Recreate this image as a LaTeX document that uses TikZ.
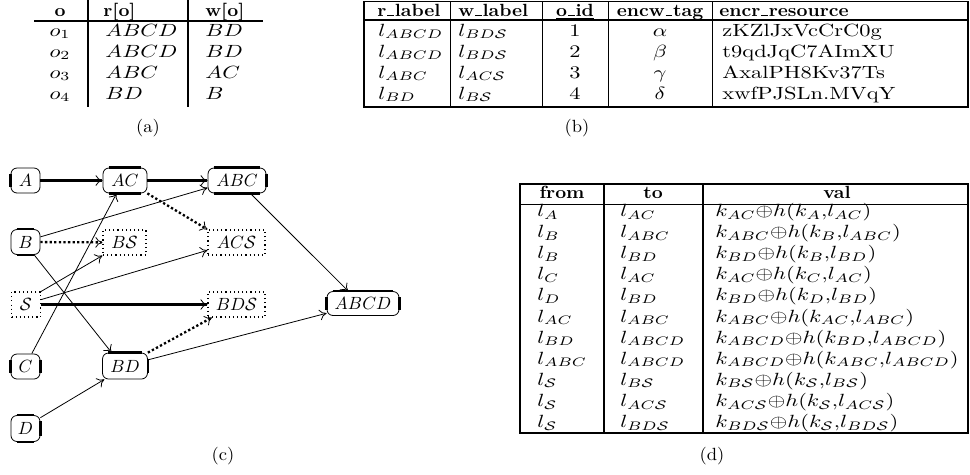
\documentclass[tikz,border=0pt]{standalone}
\usetikzlibrary{arrows.meta}
\newcommand\thickT[1]{\draw[side] ([xshift=3.4pt]#1.north west) -- ([xshift=-3.4pt]#1.north east);}
\newcommand\thickB[1]{\draw[side] ([xshift=3.4pt]#1.south west) -- ([xshift=-3.4pt]#1.south east);}
\newcommand\thickL[1]{\draw[side] ([yshift=-3.4pt]#1.north west) -- ([yshift=3.4pt]#1.south west);}
\newcommand\thickR[1]{\draw[side] ([yshift=-3.4pt]#1.north east) -- ([yshift=3.4pt]#1.south east);}
% short low rule used as underscore in the column titles
\newcommand\us{\kern.05em\rule[-0.2pt]{.34em}{.6pt}\kern.05em}
\begin{document}
\begin{tikzpicture}[x=0.566pt,y=-0.566pt,
  txt/.style={inner sep=0pt, anchor=base west, xscale=1.27},
  ctxt/.style={inner sep=0pt, anchor=base, xscale=1.27},
  hd/.style={inner sep=0pt, anchor=base west, xscale=1.08, font=\bfseries},
  chd/.style={inner sep=0pt, anchor=base, xscale=1.08, font=\bfseries},
  captxt/.style={inner sep=0pt, anchor=base, xscale=1.05},
  rule/.style={line width=1.1pt},
  thinrule/.style={line width=0.55pt},
  box/.style n args={2}{draw, line width=0.45pt, rounded corners=3.4pt, inner sep=0pt,
    minimum width=#1*0.566pt, minimum height=#2*0.566pt},
  dbox/.style n args={2}{draw, line width=0.6pt, dash pattern=on 0.65pt off 1.7pt, inner sep=0pt,
    minimum width=#1*0.566pt, minimum height=#2*0.566pt},
  side/.style={line width=1.5pt},
  tip/.style={-{Computer Modern Rightarrow[length=4pt,width=6pt,line width=0.45pt]}},
  plain/.style={tip, line width=0.45pt},
  heavy/.style={tip, line width=1.5pt},
  dots/.style={tip, line width=1.3pt, dash pattern=on 1.3pt off 1.3pt},
]
\useasboundingbox (0,0) rectangle (970,474);

% ---------- (a) objects with read and write sets ----------
\draw[rule] (34,21) -- (263,21);
\draw[rule] (88,0) -- (88,107);
\draw[rule] (188,0) -- (188,107);
\node[chd] (a-h1) at (60,16) {o};
\node[hd] (a-h2) at (103,16) {r[o]};
\node[hd] (a-h3) at (205,16) {w[o]};
\foreach \va/\vb/\vc [count=\i] in {o_1/ABCD/BD, o_2/ABCD/BD, o_3/ABC/AC, o_4/BD/B} {
  \node[ctxt] (a-\i-1) at (60,{15+21*\i}) {$\va$};
  \node[txt] (a-\i-2) at (105,{15+21*\i}) {$\vb$};
  \node[txt] (a-\i-3) at (205,{15+21*\i}) {$\vc$};
}
\node[captxt] (cap-a) at (148,132) {(a)};

% ---------- (b) encrypted resources ----------
\draw[rule] (364,1.5) rectangle (968,107);
\draw[rule] (364,20) -- (968,20);
\foreach \x in {450,542,608,712} \draw[thinrule] (\x,1.5) -- (\x,107);
\node[hd] (b-h1) at (377,16) {r\us label};
\node[hd] (b-h2) at (458,16) {w\us label};
\node[chd] (b-h3) at (575,16) {\underline{o\us id}};
\node[chd] (b-h4) at (660,16) {encw\us tag};
\node[hd] (b-h5) at (719,16) {encr\us resource};
\foreach \va/\vb/\vc/\vd/\ve [count=\i] in {
    {l_{ABCD}}/{l_{BD\mathcal{S}}}/1/\alpha/zKZlJxVcCrC0g,
    {l_{ABCD}}/{l_{BD\mathcal{S}}}/2/\beta/t9qdJqC7AImXU,
    {l_{ABC}}/{l_{AC\mathcal{S}}}/3/\gamma/AxalPH8Kv37Ts,
    {l_{BD}}/{l_{B\mathcal{S}}}/4/\delta/xwfPJSLn.MVqY} {
  \node[txt] (b-\i-1) at (378,{15+21*\i}) {$\va$};
  \node[txt] (b-\i-2) at (458,{15+21*\i}) {$\vb$};
  \node[ctxt] (b-\i-3) at (575,{15+21*\i}) {\vc};
  \node[ctxt] (b-\i-4) at (660,{15+21*\i}) {$\vd$};
  \node[txt] (b-\i-5) at (722,{15+21*\i}) {\ve};
}
\node[captxt] (cap-b) at (577,132) {(b)};

% ---------- (c) key derivation graph ----------
\node[box={29}{25}] (A)    at (25.5,180.5) {$A$};
\node[box={44}{25}] (AC)   at (125,180.5)  {$AC$};
\node[box={58}{25}] (ABC)  at (237,180.5)  {$ABC$};
\node[box={29}{25}] (B)    at (25.5,242)   {$B$};
\node[dbox={43}{25}] (BS)  at (124.5,242.5) {$B\mathcal{S}$};
\node[dbox={57}{25}] (ACS) at (236.5,242.5) {$AC\mathcal{S}$};
\node[dbox={29}{25}] (S)   at (26,304.5)   {$\mathcal{S}$};
\node[dbox={57}{25}] (BDS) at (236.5,304.5) {$BD\mathcal{S}$};
\node[box={72}{24}] (ABCD) at (363,303.5)  {$ABCD$};
\node[box={29}{25}] (C)    at (25.5,366.5) {$C$};
\node[box={45}{26}] (BD)   at (125,366)    {$BD$};
\node[box={29}{26}] (D)    at (25.5,428.5) {$D$};

\thickL{A}
\thickT{AC}\thickB{AC}
\thickT{ABC}\thickB{ABC}\thickR{ABC}
\thickT{B}\thickB{B}
\thickT{ABCD}\thickL{ABCD}\thickR{ABCD}
\thickL{C}\thickR{C}
\thickT{BD}\thickR{BD}
\thickT{D}\thickB{D}\thickR{D}

\draw[heavy] (A) -- (AC);
\draw[heavy] (AC) -- (ABC);
\draw[dots] (AC.south east) -- (ACS.north west);
\draw[plain] (B.19) -- (ABC.194);
\draw[dots] (B) -- (BS);
\draw[plain] (B.-56) -- (BD.135);
\draw[plain] (S.north east) -- (BS.south west);
\draw[plain] (S.18) -- (ACS.195);
\draw[heavy] (S) -- (BDS);
\draw[plain] (C.64) -- (AC.237);
\draw[plain] (D.36) -- (BD.213);
\draw[dots] (BD.north east) -- (BDS.208);
\draw[plain] (BD.15) -- (ABCD.195);
\draw[plain] (ABC.-44) -- (ABCD.140);
\node[captxt] (cap-c) at (223,460) {(c)};

% ---------- (d) public edge values ----------
\draw[rule] (520,184) rectangle (968,433);
\draw[thinrule] (520,204) -- (968,204);
\draw[rule] (604,184) -- (604,433);
\draw[rule] (703,184) -- (703,433);
\node[chd] (d-h1) at (562,198) {from};
\node[chd] (d-h2) at (653,198) {to};
\node[chd] (d-h3) at (837,198) {val};
\foreach \va/\vb/\vc [count=\i] in {
    {l_A}/{l_{AC}}/{k_{AC}{\oplus}h(k_A{,}l_{AC})},
    {l_B}/{l_{ABC}}/{k_{ABC}{\oplus}h(k_B{,}l_{ABC})},
    {l_B}/{l_{BD}}/{k_{BD}{\oplus}h(k_B{,}l_{BD})},
    {l_C}/{l_{AC}}/{k_{AC}{\oplus}h(k_C{,}l_{AC})},
    {l_D}/{l_{BD}}/{k_{BD}{\oplus}h(k_D{,}l_{BD})},
    {l_{AC}}/{l_{ABC}}/{k_{ABC}{\oplus}h(k_{AC}{,}l_{ABC})},
    {l_{BD}}/{l_{ABCD}}/{k_{ABCD}{\oplus}h(k_{BD}{,}l_{ABCD})},
    {l_{ABC}}/{l_{ABCD}}/{k_{ABCD}{\oplus}h(k_{ABC}{,}l_{ABCD})},
    {l_{\mathcal{S}}}/{l_{B\mathcal{S}}}/{k_{B\mathcal{S}}{\oplus}h(k_{\mathcal{S}}{,}l_{B\mathcal{S}})},
    {l_{\mathcal{S}}}/{l_{AC\mathcal{S}}}/{k_{AC\mathcal{S}}{\oplus}h(k_{\mathcal{S}}{,}l_{AC\mathcal{S}})},
    {l_{\mathcal{S}}}/{l_{BD\mathcal{S}}}/{k_{BD\mathcal{S}}{\oplus}h(k_{\mathcal{S}}{,}l_{BD\mathcal{S}})}} {
  \node[txt] (d-\i-1) at (537,{195.4+21.1*\i}) {$\va$};
  \node[txt] (d-\i-2) at (620,{195.4+21.1*\i}) {$\vb$};
  \node[txt] (d-\i-3) at (715,{195.4+21.1*\i}) {$\vc$};
}
\node[captxt] (cap-d) at (712,460) {(d)};
\end{tikzpicture}
\end{document}
